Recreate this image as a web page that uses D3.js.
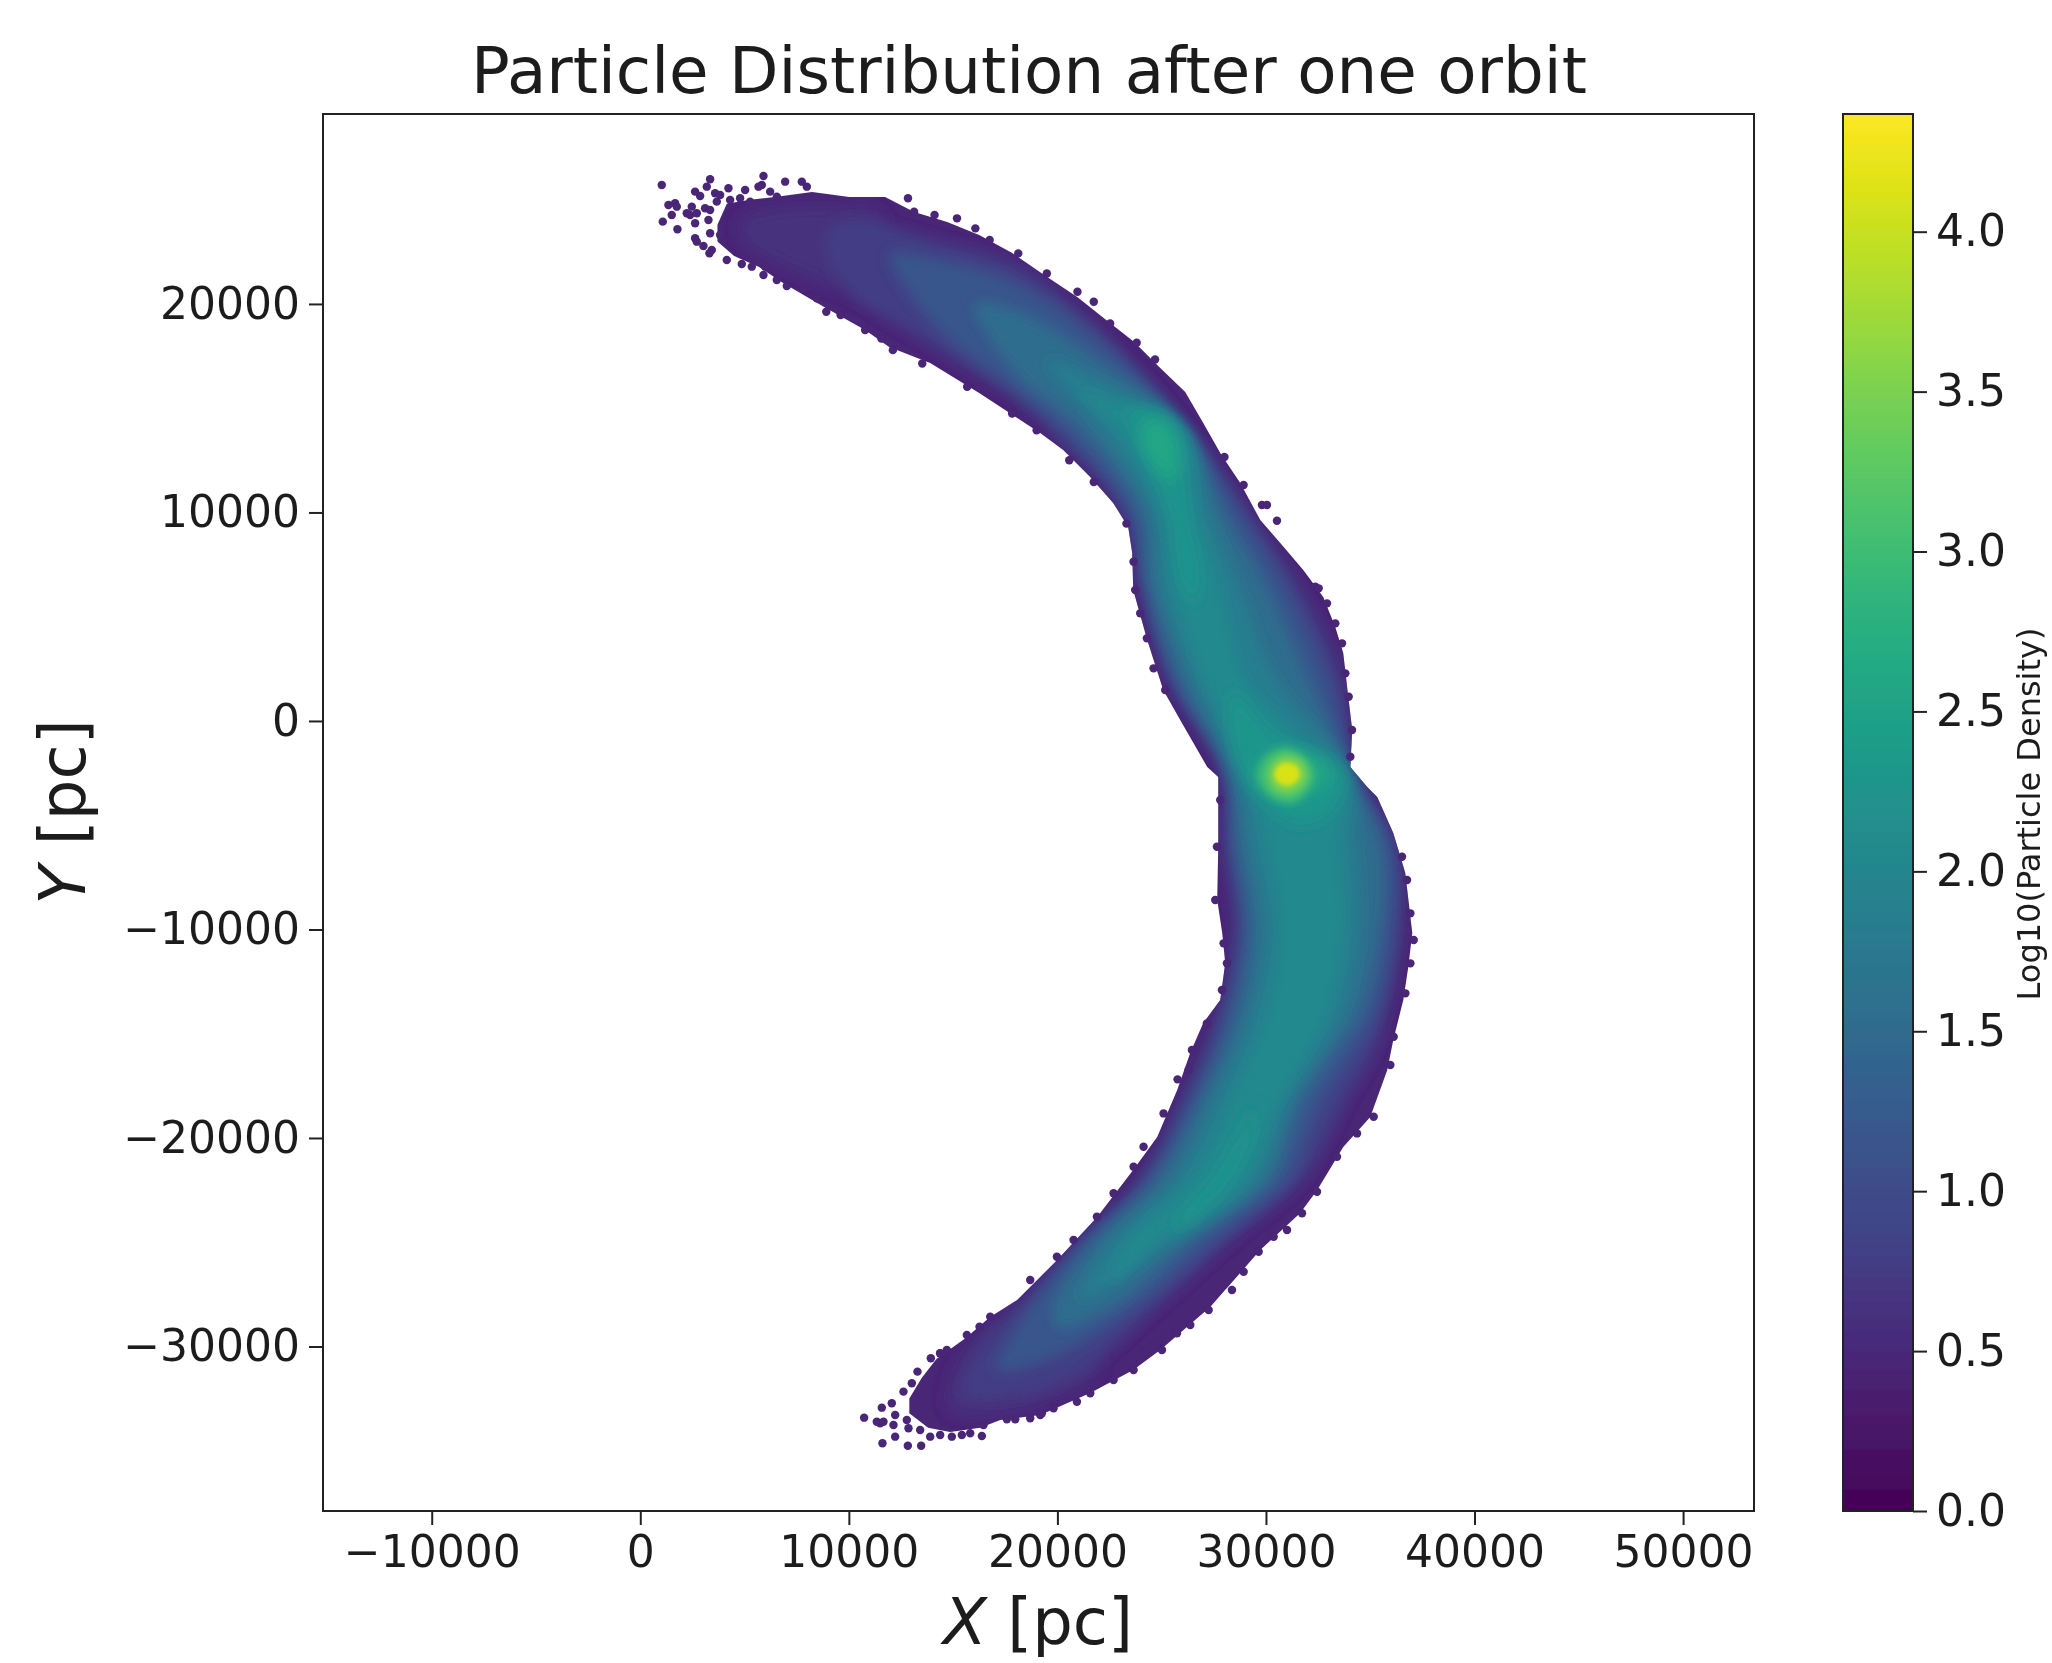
<!DOCTYPE html>
<html>
<head>
<meta charset="utf-8">
<title>Particle Distribution after one orbit</title>
<script src="https://d3js.org/d3.v7.min.js"></script>
<style>
    body { margin: 0; background: #fff; }
    svg { display: block; }
    text { font-family: "DejaVu Sans", sans-serif; fill: #1c1c1c; }
</style>
</head>
<body>
<div id="my_dataviz"></div>
<script>

// Tick labels
var xTicks = [-10000, 0, 10000, 20000, 30000, 40000, 50000];
var yTicks = [-30000, -20000, -10000, 0, 10000, 20000];
var barTicks = [0, 0.5, 1, 1.5, 2, 2.5, 3, 3.5, 4];

// Outline of the stream in pc
var outline = [[3700,23800],[4148,24800],[5267,25000],[6465,25131],[8239,25371],[10014,25131],[11741,25131],[13131,24412],[14714,23932],[16249,23309],[17832,22445],[19366,21390],[20949,20335],[22340,19232],[23683,18177],[24882,16978],[26129,15779],[26992,14292],[27807,12853],[28766,11414],[29726,9640],[30685,8537],[31788,7242],[32747,5947],[33323,4508],[33706,3261],[33946,1151],[34138,-432],[34042,-2206],[34857,-3165],[35337,-3645],[36104,-5372],[36680,-7290],[37016,-10168],[36824,-11798],[36584,-13381],[36104,-15299],[35816,-16738],[35001,-18992],[33706,-20431],[32459,-22493],[31644,-23596],[29726,-25371],[27328,-28105],[24930,-30167],[23635,-31126],[21572,-32229],[19174,-33284],[17256,-33524],[16297,-33900],[14858,-34100],[13800,-33900],[12900,-33200],[12900,-32500],[13500,-31500],[14200,-30600],[15673,-29543],[16776,-28584],[18071,-27769],[19990,-25850],[21908,-23788],[23635,-21534],[24786,-19951],[25745,-17697],[26368,-15923],[26992,-14484],[27807,-13381],[28047,-11606],[27903,-10168],[27663,-8585],[27711,-6043],[27711,-2686],[27184,-2206],[25889,48],[25074,1487],[24306,3885],[23635,6283],[23587,8057],[23395,9304],[22676,10455],[21572,11702],[20278,12997],[19174,13812],[16249,15731],[13899,17170],[11932,17937],[10781,18752],[8815,19855],[6849,21006],[5698,21774],[4500,22300],[3700,23000]];

// Density contours in pc, each value goes with the shape(s) below it
var contourValues = [0.62, 0.8, 1.15, 1.55, 1.85, 2.05, 2.3, 2.6, 3.0, 3.5, 4.1];

var contour06Upper = [[4800,24000],[6500,24600],[9500,24700],[11500,24300],[11500,20000],[9500,20700],[6500,22000],[5000,22900]];
var contour06Lower = [[15500,-30300],[17500,-28500],[19500,-28000],[22000,-31000],[19000,-32800],[16500,-33300],[14800,-33000]];

var contour08 = [[8821,23225],[10000,24025],[14000,23145],[18000,21865],[22000,18825],[26290,14000],[29250,10000],[31640,6400],[33700,2000],[34300,-2500],[36280,-6000],[36520,-10000],[35800,-14000],[35164,-16000],[33900,-18181],[33000,-20000],[31800,-22000],[28290,-25000],[24932,-28000],[21500,-31000],[18500,-32300],[15498,-32248],[16500,-29800],[18216,-28000],[20935,-25000],[23893,-22000],[25890,-18181],[27650,-14000],[28450,-10000],[27970,-6000],[27890,-2500],[25300,2000],[23970,6400],[23090,10000],[19574,14000],[18000,15385],[14000,17945],[10000,20665]];

var contour115 = [[11954,22425],[14000,22265],[18000,21065],[22000,18345],[26210,14000],[28770,10000],[31000,6400],[33000,2000],[34300,-2500],[36040,-6000],[36120,-10000],[35324,-14000],[34200,-16000],[32800,-18181],[32000,-20000],[31100,-22000],[27490,-25000],[23973,-28000],[20000,-30500],[17097,-31130],[18696,-28000],[21175,-25000],[24213,-22000],[26370,-18181],[28050,-14000],[28850,-10000],[28290,-6000],[28050,-2500],[25500,2000],[24130,6400],[23410,10000],[20133,14000],[18000,15785],[14000,19065]];

var contour155 = [[16000,20000],[18000,19705],[22000,17305],[26130,14000],[27970,10000],[30050,6400],[32000,2000],[34000,-2500],[35480,-6000],[35480,-10000],[34525,-14000],[33200,-16000],[31800,-18181],[31100,-20000],[30300,-22000],[26370,-25000],[22854,-28000],[19976,-29130],[19815,-28000],[21735,-25000],[24772,-22000],[26850,-18181],[28610,-14000],[29250,-10000],[28690,-6000],[28210,-2500],[25900,2000],[24450,6400],[23970,10000],[21093,14000],[18000,16665]];

var contour185 = [[19500,17300],[22000,16345],[26018,14000],[27330,10000],[28770,6400],[30500,2000],[33960,-2500],[34360,-6000],[34520,-10000],[33725,-14000],[31170,-18181],[29700,-22000],[25570,-25000],[21095,-27771],[22530,-25000],[25572,-22000],[27490,-18181],[29250,-14000],[29890,-10000],[29250,-6000],[28610,-2500],[26500,2000],[24930,6400],[24530,10000],[22052,14000]];

var contour205 = [[21000,15900],[22000,15545],[25890,14000],[26690,10000],[27800,6400],[29000,2000],[30850,0],[32500,-1900],[33725,-2500],[33560,-6000],[33725,-10000],[32925,-14000],[30690,-18181],[29000,-22000],[24770,-25000],[22534,-26972],[23330,-25000],[26371,-22000],[28290,-18181],[30047,-14000],[30686,-10000],[30050,-6000],[29090,-2500],[27000,2000],[25570,6400],[25010,10000],[22852,14000]];

var contour23Upper = [[23200,14800],[24800,14800],[25650,14000],[26210,10000],[26800,6800],[26500,5500],[25900,7000],[25410,10000],[23800,13800]];
var contour23Centre = [[28400,1500],[29300,500],[30500,-800],[33300,-2000],[33700,-3000],[33000,-4500],[31500,-5000],[30000,-4000],[29000,-2800],[28300,-800]];
var contour23Lower = [[29300,-18500],[29400,-19500],[28300,-22000],[26000,-24300],[25500,-24300],[27400,-22000],[28900,-19500]];

var contour26Upper = [[24500,14500],[25400,14000],[25800,12500],[25400,11500],[24700,12200],[24000,13600]];
var contour26Centre = [[29800,-1800],[31000,-1300],[32800,-2000],[33000,-2800],[31200,-3800],[29900,-3300],[29400,-2500]];

var contour30 = [[31000,-1300],[32100,-2000],[32300,-2800],[31400,-3900],[30300,-3700],[29600,-2700],[30000,-1700]];
var contour35 = [[31000,-1650],[31800,-2000],[31950,-2850],[31150,-3500],[30350,-3250],[30100,-2500],[30400,-1900]];
var contour41 = [[31000,-2000],[31500,-2200],[31600,-2700],[31100,-3100],[30600,-2950],[30400,-2550],[30600,-2150]];

// Stray particles along the rough edge and in the two tips, in pc
var strayParticles = [[1030,25706],[3348,25978],[3188,25626],[2629,25387],[2869,25179],[3588,25307],[3828,25227],[3668,24907],[4228,25547],[5027,25467],[5907,26138],[5827,25706],[5667,25626],[6946,25866],[7745,25866],[7985,25626],[1349,24747],[1669,24827],[1749,24667],[1509,24267],[1078,23948],[1781,23580],[2469,24667],[2229,24347],[2389,24267],[2709,24347],[2629,23868],[3108,24587],[3348,24507],[3268,24028],[3348,23388],[3828,23308],[2629,23148],[2709,22988],[3028,22780],[3428,22588],[3316,22428],[4148,22109],[4867,21917],[5347,21789],[5987,21789],[5907,21389],[6546,21149],[7026,20862],[7825,20750],[8465,20270],[4308,24987],[4787,25067],[5267,24907],[6226,25387],[6546,25147],
[8919,19625],[9604,19465],[10779,18745],[11562,18345],[12110,17785],[13520,17145],[15674,16025],[16261,16025],[17828,14745],[19003,13945],[20569,12505],[21744,11465],[23310,9465],[12835,25065],[13129,24425],[14108,24265],[15185,24105],[16066,23625],[16751,23065],[18122,22425],[19492,21465],[20961,20585],[21744,20105],[22527,19065],[23800,18137],[24681,17337],[28009,12665],[28928,11317],[29807,10358],[30047,10358],[30527,9606],[32366,6440],[32526,6360],[32925,5640],[33325,4681],[33645,3722],[33805,2283],[33965,1163],[34125,-436],[34045,-1715],[23651,7640],[23731,6280],[23971,5161],[24291,3962],[24611,2523],[25170,1483],
[27808,-3790],[27649,-6029],[27569,-8587],[27968,-10666],[28128,-11625],[27888,-12904],[27169,-14503],[26449,-15783],[26289,-16742],[25762,-17189],[25090,-18821],[24131,-20419],[36523,-6508],[36763,-7628],[36923,-9227],[37083,-10506],[36923,-11625],[36683,-13064],[36123,-15143],[35963,-16502],[35164,-18980],[34365,-19780],[33405,-20899],[32447,-22575],[31728,-23614],[31009,-24414],[30369,-24733],[29649,-25453],[28930,-26412],[28369,-27292],[27251,-28251],[26371,-28971],[25732,-29370],[25012,-30170],[24213,-30250],[23653,-31129],[22694,-31609],[21574,-32248],[20935,-32648],[19816,-32808],[19176,-33288],
[23653,-21375],[22694,-22655],[21894,-23774],[20775,-24893],[19976,-25693],[18696,-26812],[16778,-28571],[15658,-29450],[14379,-30330],[16266,-29051],
[10733,-33413],[11580,-32933],[11500,-33685],[11340,-33605],[11660,-33605],[12220,-34324],[11612,-34644],[12828,-34756],[13467,-34756],[12140,-33764],[12860,-33924],[13419,-34004],[13899,-34324],[14379,-34244],[14938,-34324],[15418,-34244],[15818,-34164],[16377,-34292],[16457,-33764],[12060,-32725],[12620,-32165],[13291,-31206],[13931,-30566],[13019,-31766],[17577,-33493],[17977,-33493],[18696,-33445],[19255,-33205],[19815,-32965],[12220,-33285],[12780,-33525],[14698,-30167],[14379,-30327]];

// Set the dimensions and margins of the graph
var margin = { top: 114, left: 323 },
    width = 1431,
    height = 1397;

var barLeft = 1843, barWidth = 70, barMax = 4.368;

var svg = d3.select("#my_dataviz")
    .append("svg")
    .attr("width", 2052)
    .attr("height", 1663);

var defs = svg.append("defs");

// The reference is a slightly soft upscaled picture
var soft = defs.append("filter").attr("id", "soft");
soft.append("feGaussianBlur").attr("stdDeviation", 0.7);

[[2, 6.5], [3, 8], [4, 3.5], [5, 2]].forEach(function (b) {
    defs.append("filter").attr("id", "blur" + b[0])
        .attr("x", "-30%").attr("y", "-30%").attr("width", "160%").attr("height", "160%")
        .append("feGaussianBlur").attr("stdDeviation", b[1]);
});

var x = d3.scaleLinear().domain([-15213, 53400]).range([0, width]);
var y = d3.scaleLinear().domain([-37890, 29110]).range([height, 0]);
var color = d3.scaleSequential(d3.interpolateViridis).domain([0, barMax]);

var g = svg.append("g").attr("transform", "translate(" + margin.left + "," + margin.top + ")");

var line = d3.line()
    .x(function (d) { return x(d[0]); })
    .y(function (d) { return y(d[1]); });

defs.append("clipPath").attr("id", "stream")
    .append("path")
    .attr("d", line.curve(d3.curveLinearClosed)(outline));

var plot = g.append("g").attr("filter", "url(#soft)");

// Base of the stream
var edgeValue = 0.45;
plot.append("path")
    .attr("d", line.curve(d3.curveLinearClosed)(outline))
    .attr("fill", color(edgeValue));

// Density shapes, stacked from low to high
var layers = [
    { value: contourValues[0], shapes: [contour06Upper, contour06Lower], blur: 3 },
    { value: contourValues[1], shapes: [contour08], blur: 2 },
    { value: contourValues[2], shapes: [contour115], blur: 2 },
    { value: contourValues[3], shapes: [contour155], blur: 2 },
    { value: contourValues[4], shapes: [contour185], blur: 2 },
    { value: contourValues[5], shapes: [contour205], blur: 2 },
    { value: contourValues[6], shapes: [contour23Upper, contour23Centre, contour23Lower], blur: 3 },
    { value: contourValues[7], shapes: [contour26Upper, contour26Centre], blur: 3 },
    { value: contourValues[8], shapes: [contour30], blur: 4 },
    { value: contourValues[9], shapes: [contour35], blur: 4 },
    { value: contourValues[10], shapes: [contour41], blur: 5 }
];

var inner = plot.append("g").attr("clip-path", "url(#stream)");
line.curve(d3.curveCatmullRomClosed);
layers.forEach(function (layer) {
    inner.append("g").attr("filter", "url(#blur" + layer.blur + ")")
        .selectAll("path")
        .data(layer.shapes)
        .enter()
        .append("path")
        .attr("d", line)
        .attr("fill", color(layer.value));
});

// Stray particles
var particle = d3.symbol().type(d3.symbolCircle).size(56);
plot.selectAll(".stray")
    .data(strayParticles)
    .enter()
    .append("path")
    .attr("class", "stray")
    .attr("d", particle)
    .attr("transform", function (d) { return "translate(" + x(d[0]) + "," + y(d[1]) + ")"; })
    .attr("fill", color(edgeValue));

// Axes
var axes = g.append("g").attr("filter", "url(#soft)");
function minus(d) { return String(d).replace("-", "\u2212"); }

var xAxis = axes.append("g")
    .attr("transform", "translate(0," + height + ")")
    .call(d3.axisBottom(x).tickValues(xTicks).tickSize(14).tickPadding(11).tickFormat(minus));
var yAxis = axes.append("g")
    .call(d3.axisLeft(y).tickValues(yTicks).tickSize(14).tickPadding(9).tickFormat(minus));

axes.selectAll(".domain").remove();
axes.selectAll(".tick line").attr("stroke", "#222").attr("stroke-width", 2);
axes.selectAll(".tick text").style("font-size", "44px");

axes.append("rect")
    .attr("width", width).attr("height", height)
    .attr("fill", "none").attr("stroke", "#222").attr("stroke-width", 2);

// Titles
var labels = svg.append("g").attr("filter", "url(#soft)");

labels.append("text")
    .attr("x", 1029).attr("y", 93)
    .attr("text-anchor", "middle")
    .style("font-size", "64.3px")
    .text("Particle Distribution after one orbit");

var xLabel = labels.append("text")
    .attr("x", 1038).attr("y", 1644)
    .attr("text-anchor", "middle")
    .style("font-size", "64px");
xLabel.append("tspan").style("font-style", "italic").text("X");
xLabel.append("tspan").text(" [pc]");

var yLabel = labels.append("text")
    .attr("transform", "translate(85,812) rotate(-90)")
    .attr("text-anchor", "middle")
    .style("font-size", "64px");
yLabel.append("tspan").style("font-style", "italic").text("Y");
yLabel.append("tspan").text(" [pc]");

// Color bar
var barY = d3.scaleLinear().domain([0, barMax]).range([margin.top + height, margin.top]);
var gradient = defs.append("linearGradient").attr("id", "viridis")
    .attr("x1", 0).attr("y1", 1).attr("x2", 0).attr("y2", 0);
d3.range(0, 1.001, 0.02).forEach(function (t) {
    gradient.append("stop").attr("offset", t).attr("stop-color", d3.interpolateViridis(t));
});

var bar = svg.append("g").attr("filter", "url(#soft)");
bar.append("rect")
    .attr("x", barLeft).attr("y", margin.top)
    .attr("width", barWidth).attr("height", height)
    .attr("fill", "url(#viridis)")
    .attr("stroke", "#222").attr("stroke-width", 2);

var barAxis = bar.append("g")
    .attr("transform", "translate(" + (barLeft + barWidth) + ",0)")
    .call(d3.axisRight(barY).tickValues(barTicks).tickSize(14).tickPadding(9).tickFormat(d3.format(".1f")));
barAxis.select(".domain").remove();
barAxis.selectAll(".tick line").attr("stroke", "#222").attr("stroke-width", 2);
barAxis.selectAll(".tick text").style("font-size", "44px");

bar.append("text")
    .attr("transform", "translate(2040,814) rotate(-90)")
    .attr("text-anchor", "middle")
    .style("font-size", "32px")
    .text("Log10(Particle Density)");

</script>
</body>
</html>
